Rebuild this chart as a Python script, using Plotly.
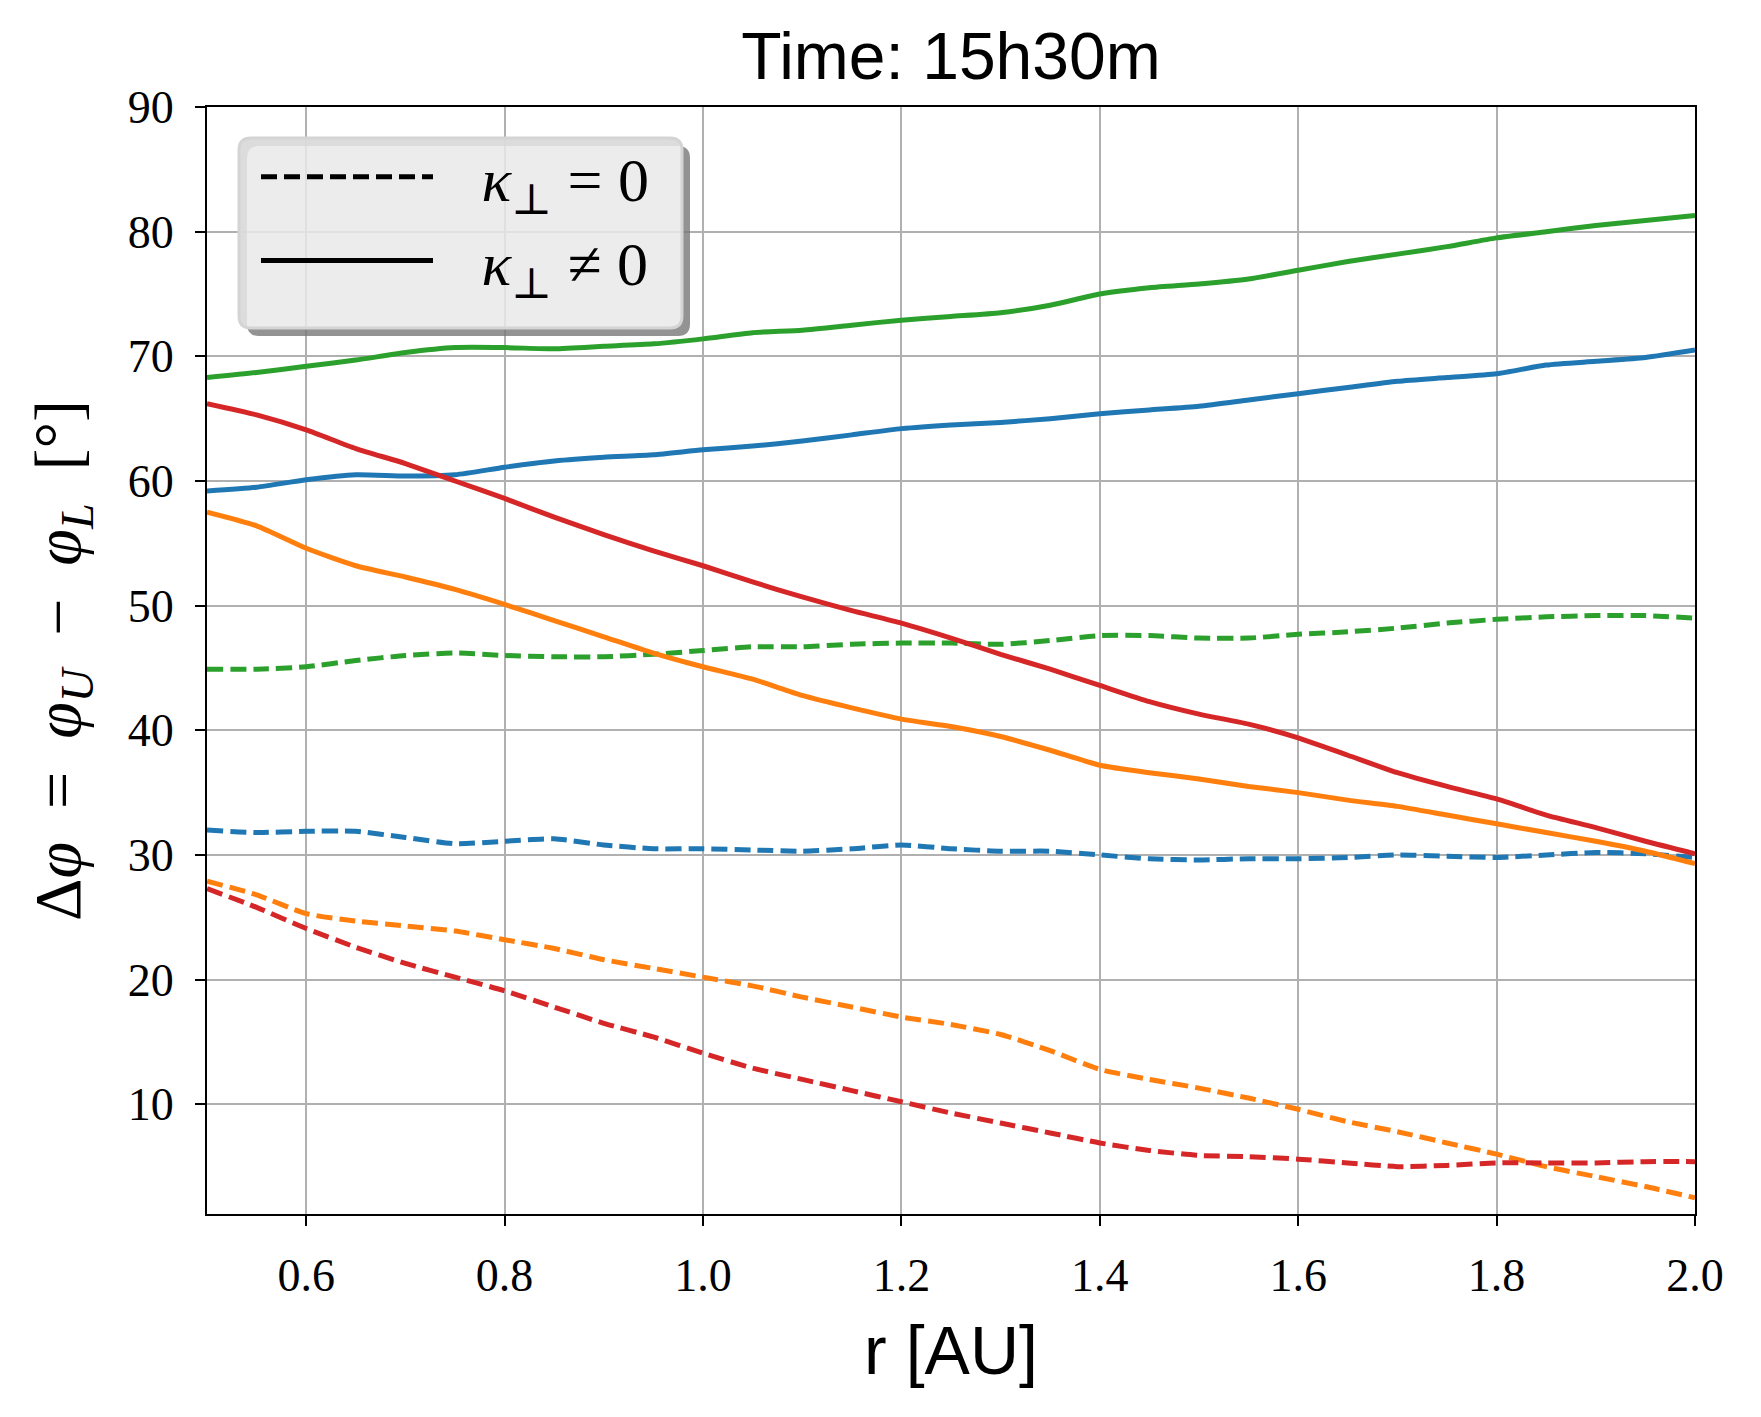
import plotly.graph_objects as go

r = [0.50, 0.55, 0.60, 0.65, 0.70, 0.75, 0.80, 0.85, 0.90, 0.95, 1.00, 1.05, 1.10, 1.15, 1.20, 1.25,
     1.30, 1.35, 1.40, 1.45, 1.50, 1.55, 1.60, 1.65, 1.70, 1.75, 1.80, 1.85, 1.90, 1.95, 2.00]

blue_solid = [59.2, 59.5, 60.1, 60.5, 60.4, 60.5, 61.1, 61.6, 61.9, 62.1, 62.5, 62.8, 63.2, 63.7, 64.2, 64.5,
              64.7, 65.0, 65.4, 65.7, 66.0, 66.5, 67.0, 67.5, 68.0, 68.3, 68.6, 69.3, 69.6, 69.9, 70.5]
orange_solid = [57.5, 56.4, 54.6, 53.2, 52.3, 51.3, 50.1, 48.8, 47.5, 46.2, 45.1, 44.1, 42.8, 41.8, 40.9, 40.3,
                39.5, 38.4, 37.2, 36.6, 36.1, 35.5, 35.0, 34.4, 33.9, 33.2, 32.5, 31.8, 31.1, 30.3, 29.3]
green_solid = [68.3, 68.7, 69.2, 69.7, 70.3, 70.7, 70.7, 70.6, 70.8, 71.0, 71.4, 71.9, 72.1, 72.5, 72.9, 73.2,
               73.5, 74.1, 75.0, 75.5, 75.8, 76.2, 76.9, 77.6, 78.2, 78.8, 79.5, 80.0, 80.5, 80.9, 81.3]
red_solid = [66.2, 65.3, 64.1, 62.6, 61.4, 60.0, 58.6, 57.1, 55.7, 54.4, 53.2, 51.9, 50.7, 49.6, 48.6, 47.4,
             46.1, 44.9, 43.6, 42.3, 41.3, 40.5, 39.4, 38.0, 36.6, 35.5, 34.5, 33.2, 32.2, 31.1, 30.1]

blue_dashed = [32.0, 31.8, 31.9, 31.9, 31.4, 30.9, 31.1, 31.3, 30.8, 30.5, 30.5, 30.4, 30.3, 30.5, 30.8, 30.5,
               30.3, 30.3, 30.0, 29.7, 29.6, 29.7, 29.7, 29.8, 30.0, 29.9, 29.8, 30.0, 30.2, 30.1, 29.8]
orange_dashed = [27.9, 26.8, 25.3, 24.7, 24.3, 23.9, 23.2, 22.5, 21.6, 20.9, 20.2, 19.5, 18.6, 17.8, 17.0, 16.4,
                 15.6, 14.3, 12.8, 12.0, 11.3, 10.5, 9.6, 8.6, 7.8, 6.9, 6.0, 5.0, 4.2, 3.4, 2.5]
green_dashed = [44.9, 44.9, 45.1, 45.6, 46.0, 46.2, 46.0, 45.9, 45.9, 46.1, 46.4, 46.7, 46.7, 46.9, 47.0, 47.0,
                46.9, 47.2, 47.6, 47.6, 47.4, 47.4, 47.7, 47.9, 48.2, 48.6, 48.9, 49.1, 49.2, 49.2, 49.0]
red_dashed = [27.3, 25.8, 24.1, 22.6, 21.3, 20.2, 19.1, 17.8, 16.5, 15.4, 14.1, 12.9, 12.0, 11.1, 10.2, 9.3,
              8.5, 7.7, 6.9, 6.3, 5.9, 5.8, 5.6, 5.3, 5.0, 5.1, 5.3, 5.3, 5.3, 5.4, 5.4]

x_ticks = [0.6, 0.8, 1.0, 1.2, 1.4, 1.6, 1.8, 2.0]
x_tick_labels = ["0.6", "0.8", "1.0", "1.2", "1.4", "1.6", "1.8", "2.0"]
y_ticks = [10, 20, 30, 40, 50, 60, 70, 80, 90]
y_tick_labels = ["10", "20", "30", "40", "50", "60", "70", "80", "90"]

title_text = "Time: 15h30m"
x_title = "r [AU]"
y_title = "Δ<i>φ</i>  =  <i>φ</i><sub><i>U</i></sub>  −  <i>φ</i><sub><i>L</i></sub>  [°]"
legend_dashed = "\u00a0\u00a0\u2009<i>κ</i><sub>⊥</sub> = 0"
legend_solid = "\u00a0\u00a0\u2009<i>κ</i><sub>⊥</sub> ≠ 0"

BLUE, ORANGE, GREEN, RED = "#1f77b4", "#ff7f0e", "#2ca02c", "#d62728"
LW = 5
DASH = "16px,7px"
SERIF = "Liberation Serif, DejaVu Serif, serif"
SANS = "Liberation Sans, Arial, sans-serif"

fig = go.Figure()
series = [
    (blue_dashed, BLUE, DASH), (orange_dashed, ORANGE, DASH), (green_dashed, GREEN, DASH), (red_dashed, RED, DASH),
    (blue_solid, BLUE, "solid"), (orange_solid, ORANGE, "solid"), (green_solid, GREEN, "solid"), (red_solid, RED, "solid"),
]
for ys, col, dash in series:
    fig.add_trace(go.Scatter(x=r, y=ys, mode="lines", showlegend=False,
                             line=dict(color=col, width=LW, dash=dash, shape="spline", smoothing=0.6)))

# legend entries
fig.add_trace(go.Scatter(x=[None], y=[None], mode="lines", name=legend_dashed,
                         line=dict(color="black", width=LW, dash=DASH)))
fig.add_trace(go.Scatter(x=[None], y=[None], mode="lines", name=legend_solid,
                         line=dict(color="black", width=LW)))

W, H = 1761, 1417
L, R, T, B = 207, 66, 107, 203
pw, ph = W - L - R, H - T - B


def pxx(x):
    return x / pw


def pxy(y):
    return 1 - y / ph


def rr_path(x0p, y0p, x1p, y1p, rad, reverse=False):
    if not reverse:
        return (f"M{pxx(x0p+rad)},{pxy(y0p)} L{pxx(x1p-rad)},{pxy(y0p)} Q{pxx(x1p)},{pxy(y0p)} {pxx(x1p)},{pxy(y0p+rad)} "
                f"L{pxx(x1p)},{pxy(y1p-rad)} Q{pxx(x1p)},{pxy(y1p)} {pxx(x1p-rad)},{pxy(y1p)} "
                f"L{pxx(x0p+rad)},{pxy(y1p)} Q{pxx(x0p)},{pxy(y1p)} {pxx(x0p)},{pxy(y1p-rad)} "
                f"L{pxx(x0p)},{pxy(y0p+rad)} Q{pxx(x0p)},{pxy(y0p)} {pxx(x0p+rad)},{pxy(y0p)} Z")
    return (f"M{pxx(x0p+rad)},{pxy(y0p)} Q{pxx(x0p)},{pxy(y0p)} {pxx(x0p)},{pxy(y0p+rad)} "
            f"L{pxx(x0p)},{pxy(y1p-rad)} Q{pxx(x0p)},{pxy(y1p)} {pxx(x0p+rad)},{pxy(y1p)} "
            f"L{pxx(x1p-rad)},{pxy(y1p)} Q{pxx(x1p)},{pxy(y1p)} {pxx(x1p)},{pxy(y1p-rad)} "
            f"L{pxx(x1p)},{pxy(y0p+rad)} Q{pxx(x1p)},{pxy(y0p)} {pxx(x1p-rad)},{pxy(y0p)} Z")


bx0, by0, bx1, by1 = 239 - L, 138 - T, 682 - L, 328 - T
shadow = rr_path(bx0 + 8, by0 + 8, bx1 + 8, by1 + 8, 12) + " " + rr_path(bx0, by0, bx1, by1, 12, reverse=True)
shapes = [
    dict(type="path", xref="paper", yref="paper", path=shadow,
         fillcolor="rgba(120,120,120,0.8)", line=dict(width=0), layer="above"),
    dict(type="path", xref="paper", yref="paper", path=rr_path(bx0, by0, bx1, by1, 12),
         fillcolor="rgba(233,233,233,0.85)", line=dict(color="rgba(212,212,212,1)", width=3), layer="above"),
]

leg_left = 256
fig.update_layout(
    width=W, height=H,
    margin=dict(l=L, r=R, t=T, b=B),
    paper_bgcolor="white", plot_bgcolor="white",
    title=dict(text=title_text, x=0.5, xref="paper", xanchor="center", y=1 - 56 / H, yanchor="middle",
               font=dict(family=SANS, size=66, color="black")),
    shapes=shapes,
    legend=dict(x=pxx(leg_left - L), y=pxy(130 - T), xanchor="left", yanchor="top",
                bgcolor="rgba(0,0,0,0)", borderwidth=0,
                font=dict(family=SERIF, size=62, color="black"),
                itemwidth=172, tracegroupgap=0),
    font=dict(family=SERIF, color="black"),
)
fig.update_xaxes(range=[0.5, 2.0], tickvals=x_ticks, ticktext=x_tick_labels,
                 showgrid=True, gridcolor="#b0b0b0", gridwidth=2.2,
                 showline=True, linecolor="black", linewidth=2.2, mirror=True,
                 ticks="outside", ticklen=10, tickwidth=2.2, tickcolor="black",
                 tickfont=dict(family=SERIF, size=46, color="black"), ticklabelstandoff=10,
                 title=dict(text=x_title, font=dict(family=SANS, size=68, color="black"), standoff=26),
                 zeroline=False)
fig.update_yaxes(range=[1.2, 90], tickvals=y_ticks, ticktext=y_tick_labels,
                 showgrid=True, gridcolor="#b0b0b0", gridwidth=2.2,
                 showline=True, linecolor="black", linewidth=2.2, mirror=True,
                 ticks="outside", ticklen=10, tickwidth=2.2, tickcolor="black",
                 tickfont=dict(family=SERIF, size=46, color="black"), ticklabelstandoff=12,
                 title=dict(text=y_title, font=dict(family=SERIF, size=66, color="black"), standoff=26),
                 zeroline=False)

fig.write_html("out.html")
